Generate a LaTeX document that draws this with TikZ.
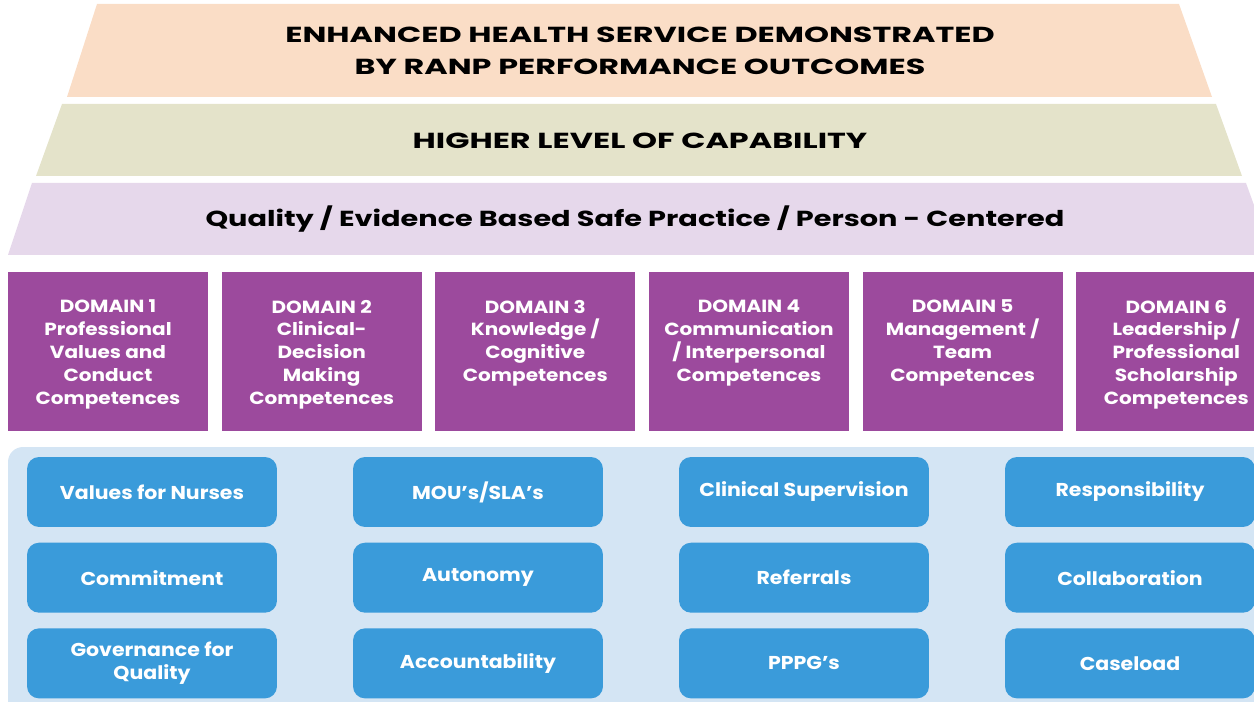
\documentclass[tikz,border=0pt]{standalone}
\usepackage{fontspec}
\setmainfont{Poppins}
\newfontfamily\bandfont{Poppins}[FakeStretch=1.46]
\newfontfamily\qualfont{Poppins}[FakeStretch=1.32]
\newfontfamily\domfont{Poppins}[FakeStretch=1.14]
\newfontfamily\itemfont{Poppins}[FakeStretch=1.1]
\usetikzlibrary{positioning}
\definecolor{peach}{HTML}{FADDC6}
\definecolor{khaki}{HTML}{E4E3CA}
\definecolor{lavender}{HTML}{E6D8EB}
\definecolor{dompurple}{HTML}{9C4A9D}
\definecolor{paleblue}{HTML}{D4E5F4}
\definecolor{itemblue}{HTML}{3A9BDA}
\begin{document}
\begin{tikzpicture}[x=0.02cm, y=-0.02cm] % 1 единица = 1 пиксель
\tikzstyle{band} = [font=\bandfont\bfseries\fontsize{12.4}{18}\selectfont, align=center, inner sep=0pt] % надписи на полосах
\tikzstyle{dombox} = [rectangle, fill=dompurple, minimum width=4cm, minimum height=3.18cm, inner sep=0pt] % домен
\tikzstyle{domtext} = [font=\domfont\bfseries\fontsize{10}{13}\selectfont, text=white, align=center, inner sep=0pt]
\tikzstyle{item} = [rectangle, rounded corners=0.24cm, fill=itemblue, minimum width=5cm, minimum height=1.4cm,
  font=\itemfont\bfseries\fontsize{10.6}{13}\selectfont, text=white, align=center, inner sep=0pt]

\useasboundingbox (0,0) rectangle (1254,702);
\clip (0,0) rectangle (1254,702);

% полосы пирамиды
\fill[peach] (97,4) -- (1179,4) -- (1212,97) -- (67,97) -- cycle;
\node[band] (outcomes) at (640,51) {ENHANCED HEALTH SERVICE DEMONSTRATED\\BY RANP PERFORMANCE OUTCOMES};
\fill[khaki] (62,104) -- (1216,104) -- (1242,176) -- (36,176) -- cycle;
\node[band] (capability) at (640,141) {HIGHER LEVEL OF CAPABILITY};
\fill[lavender] (32,183) -- (1246,183) -- (1272,255) -- (8,255) -- cycle;
\node[band, font=\qualfont\bfseries\fontsize{12.4}{18}\selectfont] (practice) at (635,219) {Quality / Evidence Based Safe Practice / Person - Centered};

% домены
\node[dombox, label={[domtext, anchor=north, yshift=-0.56cm]north:{DOMAIN 1\\Professional\\Values and\\Conduct\\Competences}}] (d1) at (108,351.5) {};
\node[dombox, right=0.26cm of d1, label={[domtext, anchor=north, yshift=-0.56cm]north:{DOMAIN 2\\Clinical-\\Decision\\Making\\Competences}}] (d2) {};
\node[dombox, right=0.26cm of d2, label={[domtext, anchor=north, yshift=-0.56cm]north:{DOMAIN 3\\Knowledge /\\Cognitive\\Competences}}] (d3) {};
\node[dombox, right=0.26cm of d3, label={[domtext, anchor=north, yshift=-0.56cm]north:{DOMAIN 4\\Communication\\/ Interpersonal\\Competences}}] (d4) {};
\node[dombox, right=0.26cm of d4, label={[domtext, anchor=north, yshift=-0.56cm]north:{DOMAIN 5\\Management /\\Team\\Competences}}] (d5) {};
\node[dombox, right=0.26cm of d5, label={[domtext, anchor=north, yshift=-0.56cm]north:{DOMAIN 6\\Leadership /\\Professional\\Scholarship\\Competences}}] (d6) {};

% нижняя панель
\fill[paleblue, rounded corners=0.3cm] (8,447) rectangle (1290,730);

\node[item] (values) at (152,492) {Values for Nurses};
\node[item, below=0.3cm of values] (commit) {Commitment};
\node[item, below=0.3cm of commit] (govern) {Governance for\\Quality};

\node[item] (mou) at (478,492) {MOU’s/SLA’s};
\node[item, below=0.3cm of mou] (auto) {Autonomy};
\node[item, below=0.3cm of auto] (account) {Accountability};

\node[item] (superv) at (804,492) {Clinical Supervision};
\node[item, below=0.3cm of superv] (refer) {Referrals};
\node[item, below=0.3cm of refer] (pppg) {PPPG’s};

\node[item] (resp) at (1130,492) {Responsibility};
\node[item, below=0.3cm of resp] (collab) {Collaboration};
\node[item, below=0.3cm of collab] (case) {Caseload};
\end{tikzpicture}
\end{document}
